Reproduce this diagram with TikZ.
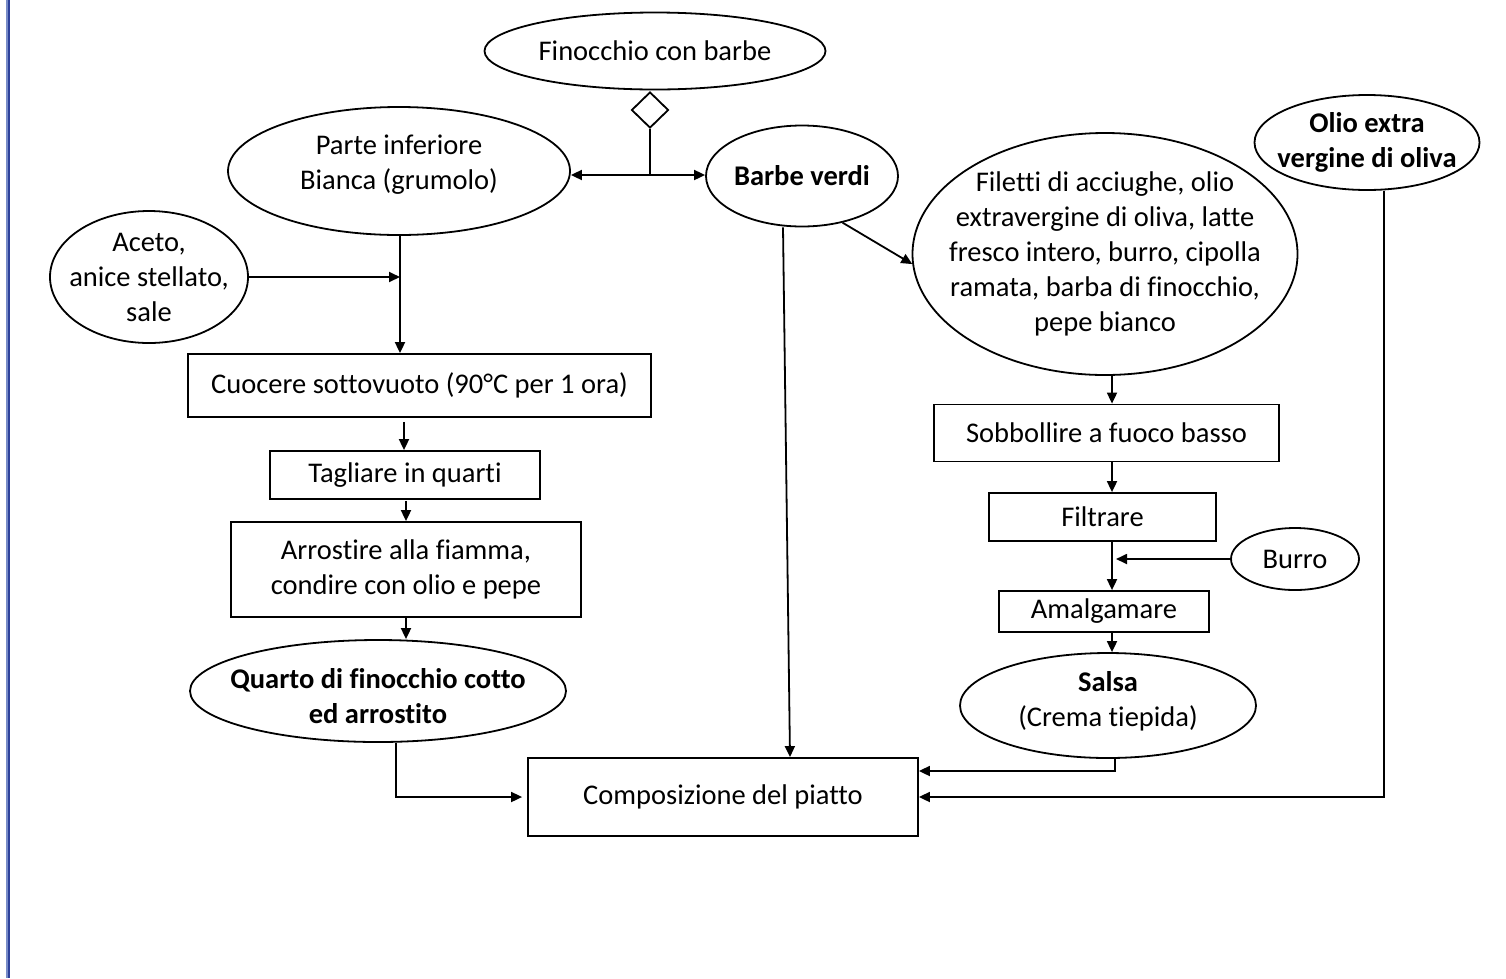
\documentclass[tikz,border=0pt]{standalone}
\usepackage{fontspec}
\setmainfont{Carlito}[Ligatures=NoCommon]
\usetikzlibrary{shapes.geometric,arrows.meta,calc}
\definecolor{marginlight}{RGB}{120,140,200}
\definecolor{margindark}{RGB}{45,65,155}
\begin{document}
\begin{tikzpicture}[x=1pt,y=-1pt,
  every node/.style={font=\fontsize{28.5}{35}\selectfont, align=center, inner sep=0pt},
  oval/.style={draw, ellipse, line width=1.8pt, inner sep=-25pt},
  box/.style={draw, rectangle, line width=1.8pt},
  link/.style={line width=1.8pt},
  arr/.style={link, -{Triangle[length=11pt,width=10pt]}},
]
% page area and left margin rule
\useasboundingbox (0,0) rectangle (1506,978);
\fill[white] (0,0) rectangle (1506,978);
\draw[marginlight, line width=1.4pt] (7,0) -- (7,978);
\draw[margindark, line width=1.8pt] (9.3,0) -- (9.3,978);

% source and split
\node[oval, minimum width=341pt, minimum height=77pt] (fin) at (655,51) {Finocchio con barbe};
\node[draw, diamond, line width=1.8pt, minimum width=37pt, minimum height=36pt] (dia) at (650,110) {};
\coordinate (split) at (650,175);

% left branch: white base
\node[oval, minimum width=342pt, minimum height=128pt, text depth=17pt] (pi) at (399,171) {Parte inferiore\\Bianca (grumolo)};
\node[oval, minimum width=198pt, minimum height=132pt] (ac) at (149,277) {Aceto,\\anice stellato,\\sale};
\coordinate (j1) at (400,277);
\node[box, minimum width=463pt, minimum height=63pt] (cu) at (419.5,385.5) {Cuocere sottovuoto (90°C per 1 ora)};
\node[box, minimum width=270pt, minimum height=48pt] (tq) at (405,475) {Tagliare in quarti};
\node[box, minimum width=350pt, minimum height=95pt] (ar) at (406,569.5) {Arrostire alla fiamma,\\condire con olio e pepe};
\node[oval, minimum width=376pt, minimum height=102pt, text height=66pt] (qu) at (378,691) {\bfseries Quarto di finocchio cotto\\\bfseries ed arrostito};

% centre: green fronds and plating
\node[oval, minimum width=192pt, minimum height=101pt] (bv) at (802,176) {\bfseries Barbe verdi};
\node[box, minimum width=390pt, minimum height=78pt] (co) at (723,797) {Composizione del piatto};

% right branch: sauce
\node[oval, minimum width=385pt, minimum height=242pt] (fil) at (1105,254) {Filetti di acciughe, olio\\extravergine di oliva, latte\\fresco intero, burro, cipolla\\ramata, barba di finocchio,\\pepe bianco};
\coordinate (rc) at (1112,0);
\node[box, minimum width=345pt, minimum height=57pt] (so) at (1106.5,433) {Sobbollire a fuoco basso};
\node[box, minimum width=227pt, minimum height=48pt] (fi) at (1102.5,517) {Filtrare};
\node[oval, minimum width=128pt, minimum height=62pt] (bu) at (1295,559) {Burro};
\node[box, minimum width=210pt, minimum height=41pt] (am) at (1104,611.5) {Amalgamare};
\node[oval, minimum width=296pt, minimum height=105pt, text depth=14pt] (sa) at (1108,705.5) {\bfseries Salsa\\(Crema tiepida)};
\node[oval, minimum width=225pt, minimum height=95pt] (ol) at (1367,142.5) {\bfseries Olio extra\\\bfseries vergine di oliva};

% connectors
\draw[link] (dia.south) -- (split);
\draw[arr] (split) -- (split -| pi.east);
\draw[arr] (split) -- (split -| bv.west);
\draw[link] (pi.south -| j1) -- (j1);
\draw[arr] (ac.east) -- (j1);
\draw[arr] (j1) -- (j1 |- cu.north);
\draw[arr] ([yshift=-4pt]cu.south -| 404,0) -- (404,0 |- tq.north);
\draw[arr] ([yshift=-1pt]tq.south -| ar.north) -- (ar.north);
\draw[arr] (ar.south) -- (ar.south |- qu.north);
\draw[arr, shorten >=5pt] ([xshift=18pt]qu.south) |- (co.west);
\draw[arr] ([xshift=-19pt]bv.south) -- ([xshift=67pt]co.north);
\draw[arr] (bv.-49) -- (fil.183);
\draw[arr] (fil.south -| rc) -- (so.north -| rc);
\draw[arr] (so.south -| rc) -- (fi.north -| rc);
\draw[arr] (fi.south -| rc) -- (am.north -| rc);
\draw[arr, shorten >=4pt] (bu.west) -- (bu.west -| rc);
\draw[arr] (am.south -| rc) -- (rc |- sa.north);
\draw[arr] ([xshift=7pt]sa.south) |- ([yshift=26pt]co.east);
\draw[arr] ([xshift=17pt]ol.south) |- (co.east);
\end{tikzpicture}
\end{document}
